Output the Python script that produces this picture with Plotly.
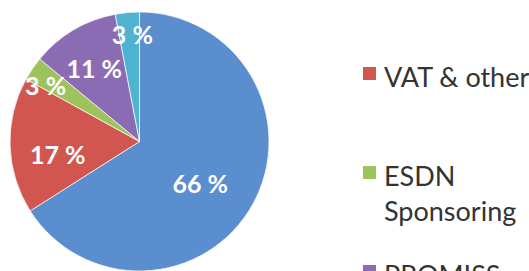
import plotly.graph_objects as go

# Data
labels = ["Membership fees", "VAT & other", "ESDN<br>Sponsoring", "PROMISS<br>project", "Other income"]
values = [66, 17, 3, 11, 3]
colors = ["#5B8ECF", "#D0564F", "#9DC45C", "#8C6BB5", "#4DB3D1"]

W, H_VIEW = 529, 271
H = 285  # figure slightly taller than the window; bottom is cropped like the reference
FONT = "Lato, 'Open Sans', sans-serif"


def px_x(p):
    return p / W


def px_y(p):
    return 1 - p / H


# pie disc (pixels): left 10, right 269, top 12, bottom 271
fig = go.Figure()
fig.add_trace(go.Pie(
    labels=labels,
    values=values,
    sort=False,
    direction="clockwise",
    rotation=0,
    marker=dict(colors=colors, line=dict(color="rgba(255,255,255,0.7)", width=1)),
    textinfo="none",
    domain=dict(x=[px_x(10), px_x(269)], y=[px_y(271), px_y(12)]),
    showlegend=False,
    hoverinfo="label+percent",
))

# label layer: same data, transparent slices, nudged the way Excel places its labels
fig.add_trace(go.Pie(
    labels=labels,
    values=values,
    sort=False,
    direction="clockwise",
    rotation=0,
    marker=dict(colors=["rgba(0,0,0,0)"] * len(values), line=dict(width=0)),
    texttemplate="%{value} %",
    textposition="inside",
    insidetextorientation="horizontal",
    textfont=dict(color="white", size=25, family=FONT, weight="bold"),
    domain=dict(x=[px_x(14), px_x(273)], y=[px_y(281), px_y(22)]),
    showlegend=False,
    hoverinfo="skip",
))

# Custom legend built from the data lists (Excel-like spaced entries)
first_cap_top = -32
step = 99
for i, (lab, col) in enumerate(zip(labels, colors)):
    cap_top = first_cap_top + i * step
    fig.add_shape(type="rect", xref="paper", yref="paper",
                  x0=px_x(363), x1=px_x(376),
                  y0=px_y(cap_top), y1=px_y(cap_top + 13),
                  fillcolor=col, line=dict(width=0))
    fig.add_annotation(xref="paper", yref="paper",
                       x=px_x(382), y=px_y(cap_top - 9),
                       xanchor="left", yanchor="top", align="left",
                       text=lab, showarrow=False,
                       font=dict(size=27, family=FONT, color="#333333"))

fig.update_layout(
    width=W, height=H,
    margin=dict(l=0, r=0, t=0, b=0),
    paper_bgcolor="white", plot_bgcolor="white",
    uniformtext=dict(minsize=25, mode="show"),
)

fig.write_html("out.html",
               config={"displayModeBar": False},
               post_script="document.body.style.margin='0';document.body.style.overflow='hidden';")
